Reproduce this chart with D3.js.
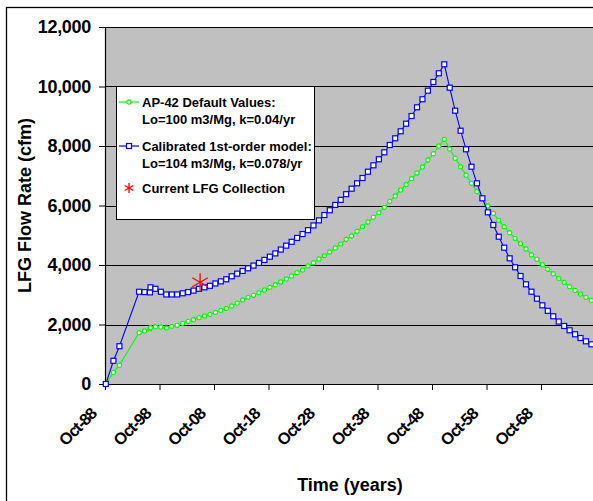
<!DOCTYPE html>
<html>
<head>
<meta charset="utf-8">
<script src="https://cdn.jsdelivr.net/npm/d3@7"></script>
<style>
  body { margin: 0; background: #fff; }
  text { font-family: "Liberation Sans", Arial, sans-serif; font-weight: bold; }
</style>
</head>
<body>
<script>
// Data
var years = [1988.9, 1990.3, 1991.4, 1995, 1996, 1997, 1997.1, 1998, 1999, 2000,
    2001, 2002, 2003, 2004, 2005, 2006, 2007, 2008, 2009, 2010,
    2011, 2012, 2013, 2014, 2015, 2016, 2017, 2018, 2019, 2020,
    2021, 2022, 2023, 2024, 2025, 2026, 2027, 2028, 2029, 2030,
    2031, 2032, 2033, 2034, 2035, 2036, 2037, 2038, 2039, 2040,
    2041, 2042, 2043, 2044, 2045, 2046, 2047, 2048, 2049, 2050,
    2051, 2052, 2053, 2054, 2055, 2056, 2057, 2058, 2059, 2060,
    2061, 2062, 2063, 2064, 2065, 2066, 2067, 2068, 2069, 2070,
    2071, 2072, 2073, 2074, 2075, 2076, 2077, 2078];

var calibrated = [0, 780, 1270, 3100, 3090, 3080, 3250, 3200, 3100, 3010,
    3010, 3010, 3050, 3090, 3140, 3200, 3250, 3300, 3380, 3450,
    3520, 3620, 3710, 3800, 3890, 3980, 4070, 4170, 4280, 4390,
    4520, 4650, 4780, 4910, 5040, 5170, 5330, 5500, 5680, 5840,
    6020, 6190, 6380, 6565, 6746, 6924, 7136, 7351, 7553, 7788,
    8034, 8259, 8494, 8750, 9008, 9301, 9570, 9859, 10151, 10444,
    10746, 9960, 9187, 8514, 7889, 7304, 6746, 6242, 5771, 5345,
    4951, 4582, 4225, 3923, 3630, 3351, 3103, 2867, 2645, 2460,
    2276, 2100, 1950, 1805, 1671, 1546, 1435, 1334];

var ap42 = [0, 390, 630, 1725, 1782, 1860, 1893, 1926, 1916, 1882,
    1940, 1973, 2040, 2108, 2161, 2229, 2286, 2343, 2410, 2477,
    2540, 2622, 2720, 2824, 2914, 2982, 3069, 3160, 3250, 3338,
    3429, 3529, 3630, 3741, 3832, 3966, 4077, 4202, 4313, 4437,
    4571, 4706, 4863, 4975, 5133, 5288, 5445, 5603, 5758, 5940,
    6141, 6319, 6521, 6699, 6901, 7092, 7294, 7529, 7741, 8000,
    8225, 7899, 7587, 7304, 7020, 6746, 6464, 6220, 5983, 5738,
    5502, 5288, 5086, 4897, 4716, 4538, 4346, 4192, 4010, 3855,
    3708, 3553, 3418, 3271, 3150, 3025, 2914, 2813];

var collectionYear = [2006.2];
var collectionValue = [3420];

var tickYears = [1988.75, 1998.75, 2008.75, 2018.75, 2028.75, 2038.75, 2048.75, 2058.75, 2068.75];
var tickLabels = ["Oct-88", "Oct-98", "Oct-08", "Oct-18", "Oct-28", "Oct-38", "Oct-48", "Oct-58", "Oct-68"];
var yTicks = [0, 2000, 4000, 6000, 8000, 10000, 12000];

var legendItems = [
    { lines: ["AP-42 Default Values:", "Lo=100 m3/Mg, k=0.04/yr"], type: "circle", color: "#00ff00" },
    { lines: ["Calibrated 1st-order model:", "Lo=104 m3/Mg, k=0.078/yr"], type: "square", color: "#0000ff" },
    { lines: ["Current LFG Collection"], type: "star", color: "#ff0000" }
];

var width = 593, height = 501;
var plot = { left: 105, right: 595.5, top: 27, bottom: 384 };

var svg = d3.select("body").append("svg")
    .attr("width", width)
    .attr("height", height);

// outer frame
svg.append("rect")
    .attr("x", 6.5).attr("y", 7.5)
    .attr("width", 640).attr("height", 540)
    .attr("fill", "#fff")
    .attr("stroke", "#000")
    .attr("stroke-width", 1.3);

var x = d3.scaleLinear().domain([1988.75, 2078.75]).range([plot.left, plot.right]);
var y = d3.scaleLinear().domain([0, 12000]).range([plot.bottom, plot.top]);

// plot area
svg.append("rect")
    .attr("x", plot.left).attr("y", plot.top)
    .attr("width", plot.right - plot.left).attr("height", plot.bottom - plot.top)
    .attr("fill", "#c0c0c0");

// gridlines
svg.append("g")
    .selectAll("line")
    .data(yTicks.slice(1))
    .enter().append("line")
    .attr("x1", plot.left).attr("x2", plot.right)
    .attr("y1", function (d) { return Math.round(y(d)) + 0.5; })
    .attr("y2", function (d) { return Math.round(y(d)) + 0.5; })
    .attr("stroke", "#000")
    .attr("stroke-width", 1);

// y axis
var yAxis = svg.append("g")
    .attr("transform", "translate(" + plot.left + ",0)")
    .call(d3.axisLeft(y).tickValues(yTicks).tickSize(6).tickPadding(8).tickFormat(d3.format(",")));
yAxis.select(".domain").attr("stroke", "#000").attr("stroke-width", 1.2);
yAxis.selectAll(".tick line").attr("stroke", "#000");
yAxis.selectAll(".tick text")
    .attr("font-size", "18px")
    .attr("fill", "#000")
    .attr("font-family", "Liberation Sans, Arial, sans-serif")
    .attr("font-weight", "bold")
    .attr("letter-spacing", "-0.3px");

// x axis
var xAxis = svg.append("g")
    .attr("transform", "translate(0," + plot.bottom + ")")
    .call(d3.axisBottom(x).tickValues(tickYears).tickSize(6)
        .tickFormat(function (d, i) { return tickLabels[i]; }));
xAxis.select(".domain").attr("stroke", "#000").attr("stroke-width", 1.2);
xAxis.selectAll(".tick line").attr("stroke", "#000");
xAxis.selectAll(".tick text")
    .attr("font-size", "16.5px")
    .attr("fill", "#000")
    .attr("font-family", "Liberation Sans, Arial, sans-serif")
    .attr("font-weight", "bold")
    .attr("letter-spacing", "-1.1px")
    .attr("text-anchor", "end")
    .attr("dy", null)
    .attr("y", 0)
    .attr("transform", "translate(-8,31) rotate(-45)");

// axis titles
svg.append("text")
    .attr("transform", "translate(31," + ((plot.top + plot.bottom) / 2) + ") rotate(-90)")
    .attr("text-anchor", "middle")
    .attr("font-size", "18px")
    .text("LFG Flow Rate (cfm)");

svg.append("text")
    .attr("x", 350).attr("y", 491)
    .attr("text-anchor", "middle")
    .attr("font-size", "18px")
    .text("Time (years)");

// series
var greenData = years.map(function (d, i) { return [d, ap42[i]]; });
var blueData = years.map(function (d, i) { return [d, calibrated[i]]; });

var line = d3.line()
    .x(function (d) { return x(d[0]); })
    .y(function (d) { return y(d[1]); });

function drawSeries(data, color, type) {
    svg.append("path")
        .datum(data)
        .attr("d", line)
        .attr("fill", "none")
        .attr("stroke", color)
        .attr("stroke-width", 1.1);
    var g = svg.append("g");
    if (type === "square") {
        g.selectAll("rect")
            .data(data)
            .enter().append("rect")
            .attr("x", function (d) { return x(d[0]) - 2.5; })
            .attr("y", function (d) { return y(d[1]) - 2.5; })
            .attr("width", 5).attr("height", 5)
            .attr("fill", "#fff")
            .attr("stroke", color)
            .attr("stroke-width", 1.2);
    } else {
        g.selectAll("circle")
            .data(data)
            .enter().append("circle")
            .attr("cx", function (d) { return x(d[0]); })
            .attr("cy", function (d) { return y(d[1]); })
            .attr("r", 2.1)
            .attr("fill", "#fff")
            .attr("stroke", color)
            .attr("stroke-width", 1.1);
    }
}

drawSeries(greenData, "#00ff00", "circle");
drawSeries(blueData, "#0000ff", "square");

// star marker
function star(g, cx, cy, r, color) {
    var pts = [[0, -r, 0, r], [-r * 0.87, -r * 0.5, r * 0.87, r * 0.5], [-r * 0.87, r * 0.5, r * 0.87, -r * 0.5]];
    g.selectAll(null)
        .data(pts)
        .enter().append("line")
        .attr("x1", function (d) { return cx + d[0]; })
        .attr("y1", function (d) { return cy + d[1]; })
        .attr("x2", function (d) { return cx + d[2]; })
        .attr("y2", function (d) { return cy + d[3]; })
        .attr("stroke", color)
        .attr("stroke-width", 1.3);
}

collectionYear.forEach(function (d, i) {
    star(svg.append("g"), x(d), y(collectionValue[i]), 9, "#ff0000");
});

// Legend
var legend = svg.append("g").attr("class", "legend");
legend.append("rect")
    .attr("x", 116.5).attr("y", 86.5)
    .attr("width", 198).attr("height", 133)
    .attr("fill", "#fff")
    .attr("stroke", "#000")
    .attr("stroke-width", 1);

var rowY = [102, 146, 188];
legendItems.forEach(function (item, i) {
    var g = legend.append("g").attr("transform", "translate(0," + rowY[i] + ")");
    if (item.type === "star") {
        star(g, 129, 0, 5, item.color);
    } else {
        g.append("line")
            .attr("x1", 119).attr("x2", 139)
            .attr("y1", 0).attr("y2", 0)
            .attr("stroke", item.color).attr("stroke-width", 1.2);
        if (item.type === "square") {
            g.append("rect").attr("x", 126.5).attr("y", -2.5).attr("width", 5).attr("height", 5)
                .attr("fill", "#fff").attr("stroke", item.color).attr("stroke-width", 1.2);
        } else {
            g.append("circle").attr("cx", 129).attr("cy", 0).attr("r", 2.1)
                .attr("fill", "#fff").attr("stroke", item.color).attr("stroke-width", 1.1);
        }
    }
    g.selectAll("text")
        .data(item.lines)
        .enter().append("text")
        .attr("x", 142)
        .attr("y", function (d, j) { return 5.3 + j * 17; })
        .attr("font-size", "13px")
        .text(function (d) { return d; });
});
</script>
</body>
</html>
